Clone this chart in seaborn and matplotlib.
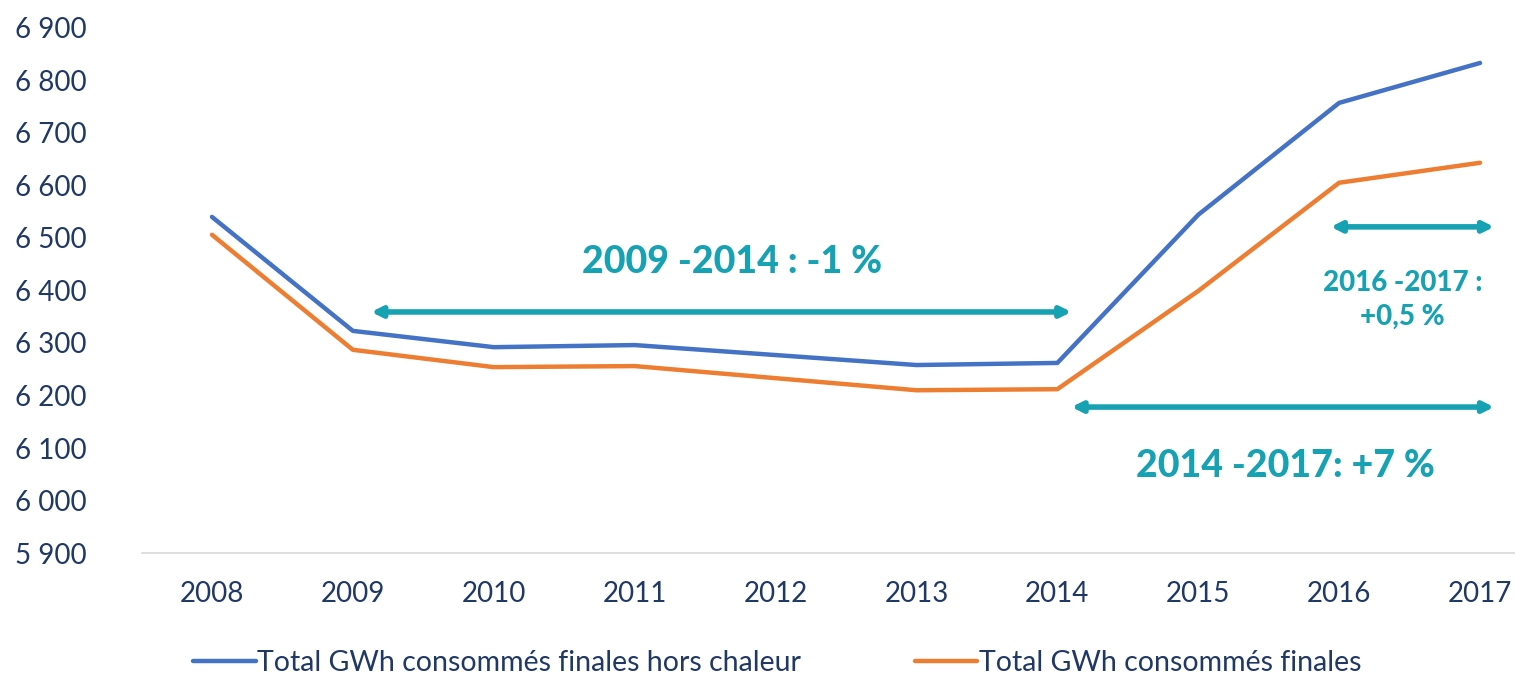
import pandas as pd
import matplotlib.pyplot as plt
import seaborn as sns

# values (GWh)
years = ['2008', '2009', '2010', '2011', '2012', '2013', '2014', '2015', '2016', '2017']
hors_chaleur = [6540, 6323, 6292, 6296, 6277, 6258, 6262, 6544, 6757, 6833]
finales = [6506, 6287, 6254, 6256, 6233, 6210, 6212, 6399, 6605, 6643]
series_names = ['Total GWh consommés finales hors chaleur', 'Total GWh consommés finales']
y_ticks = list(range(5900, 7000, 100))

df = pd.DataFrame({
    'Année': years * 2,
    'GWh': hors_chaleur + finales,
    'Série': [series_names[0]] * len(years) + [series_names[1]] * len(years),
})

sns.set_theme(style='white')
plt.rcParams['font.family'] = ['Lato', 'DejaVu Sans']

navy = '#1F3864'
teal = '#16A2B2'

fig = plt.figure(figsize=(15.15, 6.77), dpi=100)
ax = fig.add_axes([141.5 / 1515, 0.183, 1409 / 1515, 0.776])

sns.lineplot(data=df, x='Année', y='GWh', hue='Série', sort=False,
             palette=['#4472C4', '#ED7D31'], linewidth=3.2, ax=ax, legend=False)

ax.set_ylim(5900, 6900)
ax.set_xlim(-0.5, 9.5)
ax.set_yticks(y_ticks)
ax.set_yticklabels([f'{v // 1000} {v % 1000:03d}' for v in y_ticks])
ax.set_xlabel('')
ax.set_ylabel('')

for side in ['top', 'right', 'left']:
    ax.spines[side].set_visible(False)
ax.spines['bottom'].set_color('#D9D9D9')
ax.spines['bottom'].set_linewidth(1.2)

ax.tick_params(axis='both', length=0, labelsize=20, labelcolor=navy)
ax.tick_params(axis='x', pad=20)
ax.tick_params(axis='y', pad=91)
for lab in ax.get_yticklabels():
    lab.set_horizontalalignment('left')

# period arrows and labels
def period_arrow(x0, x1, y):
    ax.annotate('', xy=(x1, y), xytext=(x0, y),
                arrowprops=dict(arrowstyle='<|-|>,head_length=0.5,head_width=0.25',
                                color=teal, lw=4, shrinkA=0, shrinkB=0))

period_arrow(1.13, 6.1, 6359)
period_arrow(6.1, 9.1, 6178)
period_arrow(7.94, 9.1, 6521)

ax.text(3.69, 6455, '2009 -2014 : -1 %', color=teal, fontsize=27,
        fontweight='black', ha='center', va='center')
ax.text(7.62, 6066, '2014 -2017: +7 %', color=teal, fontsize=27,
        fontweight='black', ha='center', va='center')
ax.text(8.45, 6382, '2016 -2017 :\n+0,5 %', color=teal, fontsize=20,
        fontweight='black', ha='center', va='center', linespacing=1.4)

# legend at the bottom
handles = ax.get_lines()[:2]
fig.legend(handles, series_names, loc='center', bbox_to_anchor=(0.513, 0.021),
           ncol=2, frameon=False, fontsize=20.5, handlelength=2.2, handletextpad=0.05,
           columnspacing=4.0, labelcolor=navy)

fig.savefig('out.png', dpi=100)
